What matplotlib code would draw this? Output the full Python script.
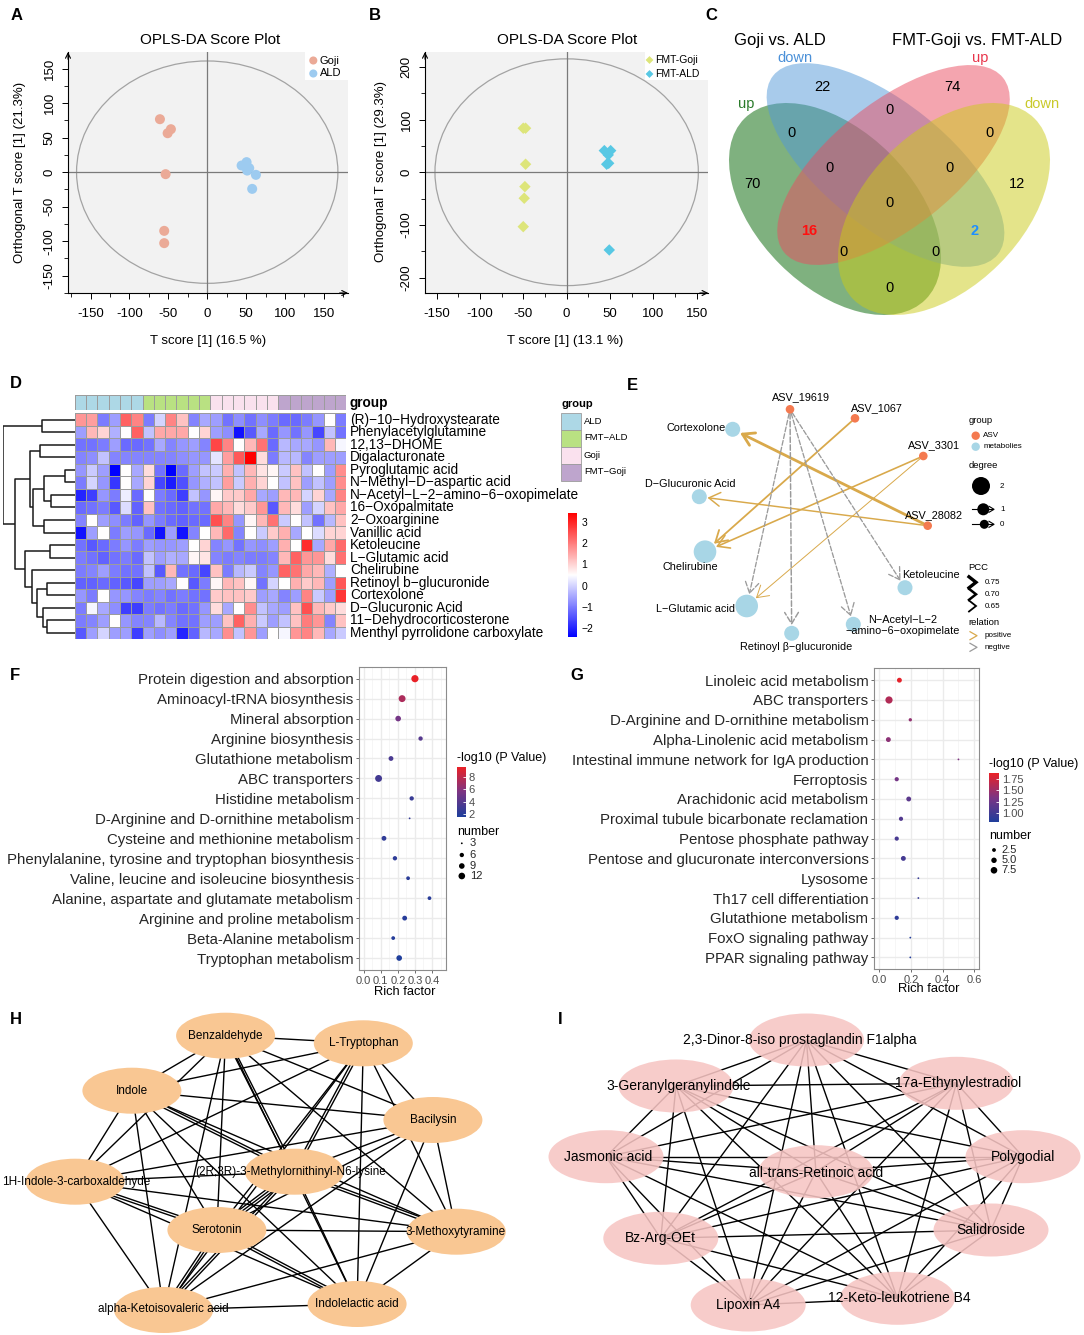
import numpy as np
import matplotlib
matplotlib.use("Agg")
import matplotlib.pyplot as plt
from matplotlib.patches import Ellipse, Rectangle, Circle
from matplotlib.colors import LinearSegmentedColormap, ListedColormap, Normalize
from matplotlib.cm import ScalarMappable
from collections import Counter

plt.rcParams["font.family"] = ["Liberation Sans", "DejaVu Sans"]
plt.rcParams["axes.unicode_minus"] = False

# ============================ DATA ============================
# --- A: OPLS-DA Goji vs ALD ---
a_goji_t = [-60.8, -46.7, -50.9, -53.5, -55.3, -55.3]
a_goji_o = [76.7, 62.2, 56.4, -2.9, -85.0, -102.8]
a_ald_t = [44.2, 50.6, 54.0, 51.4, 62.6, 57.8]
a_ald_o = [9.6, 14.5, 5.8, 2.3, -3.9, -24.2]
a_ticks = [-150, -100, -50, 0, 50, 100, 150]

# --- B: OPLS-DA FMT-Goji vs FMT-ALD ---
b_fgoji_t = [-50.1, -47.4, -47.4, -48.2, -49.0, -50.1]
b_fgoji_o = [83.5, 83.5, 15.2, -27.3, -49.3, -103.2]
b_fald_t = [43.5, 50.8, 48.0, 46.2, 48.5, 49.2]
b_fald_o = [41.0, 41.0, 32.8, 15.2, 17.0, -147.4]
b_xticks = [-150, -100, -50, 0, 50, 100, 150]
b_yticks = [-200, -100, 0, 100, 200]

# --- C: Venn ---
venn_titles = ["Goji vs. ALD", "FMT-Goji vs. FMT-ALD"]
venn_set_labels = ["up", "down", "up", "down"]
venn_regions = ["G", "B", "R", "Y", "GB", "BR", "RY", "GBR", "BRY", "GBRY", "GR", "BY", "GRY", "GBY", "GY"]
venn_counts = [70, 22, 74, 12, 0, 0, 0, 0, 0, 0, 16, 2, 0, 0, 0]

# --- D: heatmap ---
hm_metabolites = ["(R)−10−Hydroxystearate", "Phenylacetylglutamine", "12,13−DHOME", "Digalacturonate",
                  "Pyroglutamic acid", "N−Methyl−D−aspartic acid", "N−Acetyl−L−2−amino−6−oxopimelate",
                  "16−Oxopalmitate", "2−Oxoarginine", "Vanillic acid", "Ketoleucine", "L−Glutamic acid",
                  "Chelirubine", "Retinoyl b−glucuronide", "Cortexolone", "D−Glucuronic Acid",
                  "11−Dehydrocorticosterone", "Menthyl pyrrolidone carboxylate"]
hm_groups = ["ALD", "FMT−ALD", "Goji", "FMT−Goji"]
hm_sample_groups = (["ALD"] * 6 + ["FMT−ALD"] * 6 + ["Goji"] * 6 + ["FMT−Goji"] * 6)
hm_values = [
    [1.7, 1.6, -1.0, -0.6, 2.3, 1.9, -1.0, 0.0, 1.9, 1.2, -0.9, -0.5, -0.6, -1.1, -0.8, -1.1, -0.8, -1.0, -1.2, -1.2, -1.0, -0.7, 0.5, -1.0],
    [-0.6, 1.3, 1.0, -0.4, 0.5, 2.3, -0.2, 1.5, 1.5, 1.5, 0.5, 1.0, -0.6, -0.8, -2.2, -1.4, -0.5, -1.2, -0.7, -1.1, -0.7, -1.6, -0.2, -1.1],
    [-1.1, -1.1, -1.0, -0.6, -1.2, -1.2, -1.1, -0.5, -0.9, -0.7, -0.6, -0.9, 2.6, 1.9, 0.5, 1.3, 2.1, -1.2, -0.3, -0.5, -0.5, -0.7, 1.3, 0.4],
    [-0.9, -0.8, -0.2, -0.9, -0.9, -0.9, -0.9, -0.9, -0.9, -0.8, -0.7, -0.7, 0.2, 1.6, 2.4, 3.4, 0.9, -1.0, -0.3, -0.3, -0.9, -0.6, -0.6, -0.6],
    [-0.7, -0.1, -0.6, -2.4, 0.5, -0.5, 0.9, -1.1, -2.4, -1.2, -0.6, -0.2, -0.1, 1.4, -0.2, 1.3, 0.8, 0.6, -0.1, 1.2, -0.2, 0.5, -0.6, 1.8],
    [-1.0, 0.0, -0.7, -1.8, 0.5, -0.5, 1.0, -1.6, -2.1, -1.5, -0.7, -0.4, -0.2, 1.6, -0.1, 1.4, 1.0, 0.5, -0.2, 1.2, -0.6, -0.2, -0.6, 1.8],
    [-2.0, -1.7, -0.7, -1.0, 0.3, -1.2, 0.5, -1.0, -1.2, -1.7, -0.2, -0.7, 0.6, 1.1, 1.1, 1.5, -0.5, -0.6, 1.3, 1.3, 0.0, 1.0, -0.5, 1.9],
    [-1.2, -1.1, -1.0, -1.4, 0.1, -1.3, 1.2, -1.1, -1.2, -1.3, -1.1, -1.1, 1.5, 1.3, 0.9, 1.1, 1.7, -1.4, 1.3, 0.9, -0.6, 0.0, 1.2, 1.5],
    [-0.9, 0.5, -0.6, -0.8, -1.0, -1.3, -0.7, -1.0, -1.2, -1.3, -1.2, -1.2, 2.5, 1.9, -0.7, 0.6, 1.3, 2.1, -0.1, 0.5, -0.2, -1.1, -0.3, 1.2],
    [-2.2, -0.6, 0.5, -1.0, -0.6, -0.7, -1.2, -2.2, -0.6, -2.2, -0.9, 0.5, 1.3, 2.2, -0.9, 0.5, -0.1, 1.1, 1.4, -0.5, 0.5, 0.1, 1.0, 1.0],
    [-1.1, -1.4, -1.2, -1.0, -0.7, -1.0, -0.6, -0.7, -0.7, -0.6, 0.5, 1.0, -0.9, -0.7, -1.1, -0.7, -0.8, -0.6, 1.4, 0.5, 2.9, -0.5, 1.5, 2.2],
    [-1.0, -1.1, -1.3, -1.1, -1.0, -1.2, -0.2, -0.6, -0.4, -0.5, 0.6, 0.8, -0.9, -1.0, -0.9, -1.0, -1.0, -0.9, 1.3, 2.3, 1.7, 1.7, 0.9, 2.1],
    [-1.0, -0.9, -0.6, -1.0, -1.1, -1.1, -0.2, -1.4, 1.3, -1.1, -1.2, -1.6, 1.2, -1.0, -0.3, -0.1, -0.9, -0.7, 2.3, 2.1, 1.5, 1.3, -0.4, 0.5],
    [-1.3, -1.3, -1.2, -1.3, -1.4, -1.6, -0.6, -0.6, -0.5, 0.5, -1.4, -1.0, 0.6, 1.3, 1.2, 0.6, -1.1, 0.0, 0.5, 1.4, 1.1, 1.3, -0.6, 2.4],
    [-0.7, -1.0, 0.5, -0.7, -0.7, -0.9, -1.0, -0.9, -1.1, -1.0, -1.1, -1.1, 1.1, 1.2, 1.2, 1.1, -0.6, -0.5, -0.9, -0.6, 1.9, -0.1, -0.6, 2.8],
    [-1.0, 0.4, -0.5, -0.8, -1.7, -1.7, -1.0, -1.1, -1.0, -1.2, -1.1, -0.7, 0.9, -0.5, 0.5, 1.8, -0.2, -0.5, -0.6, 1.2, 2.5, 1.3, 1.1, 0.9],
    [-1.0, -0.9, -0.6, 0.5, -0.7, -0.9, -0.9, -0.3, -0.9, -1.1, -1.1, -0.6, -0.6, 1.2, 2.3, 1.4, -0.1, -0.6, -0.2, 1.2, 2.0, 1.7, -0.9, 1.2],
    [-1.4, -0.6, 0.0, -0.6, -0.6, -1.7, -0.6, -0.8, -0.6, -2.0, -1.3, -0.3, -0.5, 1.8, -0.2, 1.7, -0.6, 0.5, 0.4, 1.7, 1.9, 1.3, -0.5, -0.1],
]
# row dendrogram: (child_a, child_b, height); leaves 0..17, merged nodes numbered from 18
hm_merges = [(0, 1, 97), (2, 3, 105), (4, 5, 30), (6, 7, 70), (20, 21, 92), (8, 9, 92),
             (22, 23, 125), (19, 24, 133), (10, 11, 75), (13, 14, 82), (16, 17, 82),
             (15, 28, 95), (27, 29, 113), (12, 30, 128), (26, 31, 148), (25, 32, 180), (18, 33, 215)]
hm_vmin, hm_vmax = -2.42, 3.42
hm_legend_ticks = [3, 2, 1, 0, -1, -2]

# --- E: correlation network ---
e_nodes = ["ASV_19619", "ASV_1067", "ASV_3301", "ASV_28082", "Cortexolone", "D−Glucuronic Acid",
           "Chelirubine", "L−Glutamic acid", "Retinoyl β−glucuronide",
           "N−Acetyl−L−2\n−amino−6−oxopimelate", "Ketoleucine"]
e_node_group = ["ASV", "ASV", "ASV", "ASV", "metabolies", "metabolies", "metabolies", "metabolies",
                "metabolies", "metabolies", "metabolies"]
e_src = ["ASV_28082", "ASV_28082", "ASV_1067", "ASV_3301", "ASV_3301",
         "ASV_19619", "ASV_19619", "ASV_19619", "ASV_19619"]
e_tgt = ["Cortexolone", "D−Glucuronic Acid", "Chelirubine", "Chelirubine", "L−Glutamic acid",
         "L−Glutamic acid", "Retinoyl β−glucuronide", "N−Acetyl−L−2\n−amino−6−oxopimelate", "Ketoleucine"]
e_pcc = [0.76, 0.68, 0.70, 0.69, 0.65, -0.67, -0.68, -0.67, -0.67]

# --- F: KEGG enrichment (Goji vs ALD) ---
f_terms = ["Protein digestion and absorption", "Aminoacyl-tRNA biosynthesis", "Mineral absorption",
           "Arginine biosynthesis", "Glutathione metabolism", "ABC transporters", "Histidine metabolism",
           "D-Arginine and D-ornithine metabolism", "Cysteine and methionine metabolism",
           "Phenylalanine, tyrosine and tryptophan biosynthesis", "Valine, leucine and isoleucine biosynthesis",
           "Alanine, aspartate and glutamate metabolism", "Arginine and proline metabolism",
           "Beta-Alanine metabolism", "Tryptophan metabolism"]
f_rich = [0.300, 0.225, 0.202, 0.333, 0.160, 0.0875, 0.281, 0.269, 0.119, 0.183, 0.260, 0.385, 0.240, 0.173, 0.208]
f_logp = [9.5, 7.3, 5.3, 4.0, 3.5, 3.2, 2.7, 2.6, 2.4, 2.3, 2.2, 2.1, 2.0, 1.9, 1.7]
f_num = [14, 13, 9, 6, 7, 13, 6, 3, 7, 6, 5, 5, 7, 5, 9]
f_xticks = [0.0, 0.1, 0.2, 0.3, 0.4]
f_cticks = [8, 6, 4, 2]
f_nticks = [3, 6, 9, 12]

# --- G: KEGG enrichment (FMT-Goji vs FMT-ALD) ---
g_terms = ["Linoleic acid metabolism", "ABC transporters", "D-Arginine and D-ornithine metabolism",
           "Alpha-Linolenic acid metabolism", "Intestinal immune network for IgA production", "Ferroptosis",
           "Arachidonic acid metabolism", "Proximal tubule bicarbonate reclamation", "Pentose phosphate pathway",
           "Pentose and glucuronate interconversions", "Lysosome", "Th17 cell differentiation",
           "Glutathione metabolism", "FoxO signaling pathway", "PPAR signaling pathway"]
g_rich = [0.127, 0.061, 0.196, 0.057, 0.501, 0.110, 0.186, 0.137, 0.110, 0.152, 0.247, 0.247, 0.110, 0.196, 0.196]
g_logp = [1.85, 1.60, 1.45, 1.42, 1.35, 1.30, 1.15, 1.10, 1.05, 1.03, 0.95, 0.95, 0.90, 0.83, 0.83]
g_num = [4, 9, 2, 4, 1, 3, 4, 3, 3, 4, 1, 1, 3, 1, 1]
g_xticks = [0.0, 0.2, 0.4, 0.6]
g_cticks = [1.75, 1.50, 1.25, 1.00]
g_nticks = [2.5, 5.0, 7.5]

# --- H: metabolite network 1 ---
h_nodes = ["Benzaldehyde", "L-Tryptophan", "Indole", "Bacilysin", "1H-Indole-3-carboxaldehyde",
           "(2R,3R)-3-Methylornithinyl-N6-lysine", "Serotonin", "3-Methoxytyramine",
           "alpha-Ketoisovaleric acid", "Indolelactic acid"]
h_edges = [(0, 1), (0, 2), (0, 3), (0, 4), (0, 5), (0, 6), (0, 7), (0, 8), (0, 9),
           (1, 2), (1, 3), (1, 4), (1, 5), (1, 6), (1, 7), (1, 8), (1, 9),
           (2, 3), (2, 4), (2, 5), (2, 6), (2, 7), (2, 8), (2, 9),
           (3, 4), (3, 5), (3, 6), (3, 7), (3, 8), (3, 9),
           (4, 5), (4, 6), (4, 7), (4, 8), (4, 9),
           (5, 6), (5, 7), (5, 8), (5, 9),
           (6, 7), (6, 8), (6, 9), (7, 8), (7, 9), (8, 9),
           (2, 5), (1, 5), (0, 5), (4, 6), (5, 6), (5, 6), (6, 8), (5, 7), (6, 9), (5, 8)]

# --- I: metabolite network 2 ---
i_nodes = ["2,3-Dinor-8-iso prostaglandin F1alpha", "3-Geranylgeranylindole", "17a-Ethynylestradiol",
           "Jasmonic acid", "Polygodial", "all-trans-Retinoic acid", "Bz-Arg-OEt", "Salidroside",
           "Lipoxin A4", "12-Keto-leukotriene B4"]
i_edges = [(0, 1), (0, 2), (0, 3), (0, 4), (0, 5), (0, 6), (0, 7), (0, 8), (0, 9),
           (1, 2), (1, 3), (1, 4), (1, 5), (1, 6), (1, 7), (1, 8), (1, 9),
           (2, 3), (2, 4), (2, 5), (2, 6), (2, 7), (2, 8), (2, 9),
           (3, 4), (3, 5), (3, 6), (3, 7), (3, 8), (3, 9),
           (4, 5), (4, 6), (4, 7), (4, 8), (4, 9),
           (5, 6), (5, 7), (5, 8), (5, 9),
           (6, 7), (6, 8), (6, 9), (7, 8), (7, 9), (8, 9)]

# ============================ LAYOUT ============================
W, H = 1084, 1335
fig = plt.figure(figsize=(W / 100, H / 100), dpi=100)
fig.patch.set_facecolor("white")


def px_axes(x0, y0, x1, y1, **kw):
    return fig.add_axes([x0 / W, 1 - y1 / H, (x1 - x0) / W, (y1 - y0) / H], **kw)


ov = fig.add_axes([0, 0, 1, 1], zorder=20)
ov.set_xlim(0, W)
ov.set_ylim(H, 0)
ov.axis("off")
ov.patch.set_visible(False)

# panel letters
for lbl, x, y in [("A", 17, 15), ("B", 375, 15), ("C", 711, 15), ("D", 16, 383), ("E", 632, 385),
                  ("F", 15, 676), ("G", 577, 676), ("H", 16, 1019), ("I", 560, 1019)]:
    ov.text(x, y, lbl, fontsize=12, fontweight="bold", ha="center", va="center")


# ---------------- A & B ----------------
def score_plot(box, g1, g2, c1, c2, mk, ms, xlim, ylim, ell, xt, xminor, yt, yminor):
    ax = px_axes(*box)
    ax.set_facecolor("#F2F2F2")
    ax.add_patch(Ellipse((0, 0), 2 * ell[0], 2 * ell[1], fill=False, ec="#A3A3A3", lw=0.9, zorder=1))
    ax.axhline(0, color="#7A7A7A", lw=0.9, zorder=1)
    ax.axvline(0, color="#7A7A7A", lw=0.9, zorder=1)
    ax.scatter(g1[0], g1[1], s=ms, c=c1, marker=mk, edgecolors="none", zorder=3)
    ax.scatter(g2[0], g2[1], s=ms, c=c2, marker=mk, edgecolors="none", zorder=3)
    ax.set_xlim(*xlim)
    ax.set_ylim(*ylim)
    for s in ["top", "right"]:
        ax.spines[s].set_visible(False)
    for s in ["left", "bottom"]:
        ax.spines[s].set_linewidth(0.8)
    ax.set_xticks(xt)
    ax.set_xticklabels([str(v) for v in xt], fontsize=9.5)
    ax.set_xticks(xminor, minor=True)
    ax.set_yticks(yt)
    ax.set_yticklabels([str(v) for v in yt], fontsize=9.5, rotation=90, va="center")
    ax.set_yticks(yminor, minor=True)
    ax.tick_params(axis="x", which="major", length=4, width=0.7, pad=7)
    ax.tick_params(axis="y", which="major", length=4, width=0.7, pad=5)
    ax.tick_params(which="minor", length=3, width=0.6)
    ax.annotate("", xy=(1.0, 0), xytext=(0.97, 0), xycoords="axes fraction",
                arrowprops=dict(arrowstyle="->", lw=0.8, color="k", shrinkA=0, shrinkB=0, mutation_scale=9),
                annotation_clip=False)
    ax.annotate("", xy=(0, 1.0), xytext=(0, 0.97), xycoords="axes fraction",
                arrowprops=dict(arrowstyle="->", lw=0.8, color="k", shrinkA=0, shrinkB=0, mutation_scale=9),
                annotation_clip=False)
    return ax


score_plot((68, 52, 348, 293), (a_goji_t, a_goji_o), (a_ald_t, a_ald_o), "#EBAA97", "#9DCBF0", "o", 52,
           (-179, 181), (-175, 174), (168, 161), a_ticks, list(range(-175, 180, 25)),
           a_ticks, list(range(-175, 175, 25)))
score_plot((425, 52, 708.3, 293), (b_fgoji_t, b_fgoji_o), (b_fald_t, b_fald_o), "#DDE57A", "#58C8E4", "D", 34,
           (-163.5, 163.5), (-229, 228), (152, 215), b_xticks, list(range(-150, 160, 25)),
           b_yticks, list(range(-200, 210, 50)))
for cx, title, xl, ylx, yl in [(210, "OPLS-DA Score Plot", "T score [1] (16.5 %)", 20, "Orthogonal T score [1] (21.3%)"),
                               (567, "OPLS-DA Score Plot", "T score [1] (13.1 %)", 381, "Orthogonal T score [1] (29.3%)")]:
    ov.text(cx, 40, title, fontsize=11, ha="center", va="center")
    ov.text(cx - 2, 341, xl, fontsize=9.5, ha="center", va="center")
    ov.text(ylx, 172, yl, fontsize=9.5, ha="center", va="center", rotation=90)
# legends A / B
ov.add_patch(Rectangle((305, 52), 43, 28, fc="white", ec="none"))
for y, c, t in [(60.5, "#EBAA97", "Goji"), (73.5, "#9DCBF0", "ALD")]:
    ov.scatter([313.3], [y], s=34, c=c, marker="o", edgecolors="none")
    ov.text(319.5, y, t, fontsize=8, va="center")
ov.add_patch(Rectangle((645, 52), 63.3, 28, fc="white", ec="none"))
for y, c, t in [(60, "#DDE57A", "FMT-Goji"), (74, "#58C8E4", "FMT-ALD")]:
    ov.scatter([649.5], [y], s=16, c=c, marker="D", edgecolors="none")
    ov.text(655, y, t, fontsize=7.5, va="center")

# ---------------- C: Venn (drawn in pixel space, y downwards) ----------------
venn_centers = [(835, 209), (885.5, 165), (893.5, 165), (944, 209)]
venn_w = [256, 287, 280, 256]
venn_h = [156, 125, 125, 156]
venn_ang = [45, 38.5, -38.5, -45]
venn_fill = ["#006400", "#5299D9", "#EA4D60", "#CBCB17"]
for (cx, cy), w, h, ang, col in zip(venn_centers, venn_w, venn_h, venn_ang, venn_fill):
    ov.add_patch(Ellipse((cx, cy), w, h, angle=ang, fc=col, ec="none", alpha=0.5, zorder=1))
venn_label_pos = {"G": (752, 184), "B": (822, 87), "R": (952, 87), "Y": (1017, 184),
                  "GB": (791, 133), "BR": (890, 110), "RY": (990, 133), "GBR": (830, 168),
                  "BRY": (950, 168), "GBRY": (890, 203), "GR": (809, 231), "BY": (975, 231),
                  "GRY": (844, 252), "GBY": (936, 252), "GY": (890, 288)}
venn_label_style = {"GR": ("#FF1010", "bold"), "BY": ("#1E8FFF", "bold")}
for reg, cnt in zip(venn_regions, venn_counts):
    col, fw = venn_label_style.get(reg, ("black", "normal"))
    x, y = venn_label_pos[reg]
    ov.text(x, y, str(cnt), fontsize=10.5, color=col, fontweight=fw, ha="center", va="center", zorder=2)
ov.text(780, 40, venn_titles[0], fontsize=12, ha="center", va="center")
ov.text(977, 40, venn_titles[1], fontsize=12, ha="center", va="center")
for (x, y), lab, col in zip([(746, 104), (795, 58), (980, 58), (1042, 104)], venn_set_labels,
                            ["#2A7A2A", "#4A90D8", "#E8344A", "#C9C92A"]):
    ov.text(x, y, lab, fontsize=10.5, color=col, ha="center", va="center")

# ---------------- D: heatmap ----------------
hm_left, hm_right, hm_top, hm_bot = 74.6, 346.3, 413.3, 639.3
heat_cmap = LinearSegmentedColormap.from_list("bwr_ph", ["#0000FF", "#FFFFFF", "#FF0000"])
Z = np.array(hm_values)
nr, nc = Z.shape
axh = px_axes(hm_left, hm_top, hm_right, hm_bot)
axh.pcolormesh(Z, cmap=heat_cmap, vmin=hm_vmin, vmax=hm_vmax, edgecolors="#9C9C9C", linewidth=0.7)
axh.set_xlim(0, nc)
axh.set_ylim(nr, 0)
axh.axis("off")
group_colors = ["#ADD8E6", "#B9E182", "#FAE1EE", "#BEA5CD"]
axg = px_axes(hm_left, 395, hm_right, 410)
axg.pcolormesh(np.array([[hm_groups.index(g) for g in hm_sample_groups]]),
               cmap=ListedColormap(group_colors), vmin=-0.5, vmax=3.5, edgecolors="#9C9C9C", linewidth=0.7)
axg.set_xlim(0, nc)
axg.set_ylim(1, 0)
axg.axis("off")
row_h = (hm_bot - hm_top) / nr
for i, name in enumerate(hm_metabolites):
    ov.text(350, hm_top + (i + 0.5) * row_h, name, fontsize=9.8, va="center", ha="left")
ov.text(350, 403, "group", fontsize=9.8, fontweight="bold", va="center", ha="left")
# dendrogram
axd = px_axes(3, hm_top, hm_left, hm_bot)
pos = {i: i + 0.5 for i in range(nr)}
hgt = {i: 0.0 for i in range(nr)}
for k, (a, b, h) in enumerate(hm_merges):
    axd.plot([hgt[a], h, h, hgt[b]], [pos[a], pos[a], pos[b], pos[b]], color="#1A1A1A", lw=1.1,
             solid_capstyle="butt")
    pos[nr + k] = (pos[a] + pos[b]) / 2
    hgt[nr + k] = h
axd.set_xlim(max(m[2] for m in hm_merges), 0)
axd.set_ylim(nr, 0)
axd.axis("off")
# group legend
ov.text(561, 404, "group", fontsize=8, fontweight="bold", va="center", ha="left")
for i, (g, c) in enumerate(zip(hm_groups, group_colors)):
    y0 = 412.5 + i * 17
    ov.add_patch(Rectangle((561, y0), 20, 17, fc=c, ec="#9C9C9C", lw=0.6))
    ov.text(584, y0 + 8.5, g, fontsize=6.8, va="center", ha="left")
# colour key
cax = px_axes(568, 513, 577, 637)
cb = fig.colorbar(ScalarMappable(Normalize(hm_vmin, hm_vmax), heat_cmap), cax=cax)
cb.outline.set_visible(False)
cb.set_ticks(hm_legend_ticks)
cb.set_ticklabels([str(t).replace("-", "−") for t in hm_legend_ticks])
cax.tick_params(length=0, pad=3, labelsize=7.5)

# ---------------- E: network ----------------
e_pos = {"ASV_19619": (790, 409.3), "ASV_1067": (855, 418.3), "ASV_3301": (923.3, 456),
         "ASV_28082": (927.7, 525.7), "Cortexolone": (732.7, 429.3), "D−Glucuronic Acid": (699.3, 496.7),
         "Chelirubine": (705, 551.7), "L−Glutamic acid": (746.7, 606), "Retinoyl β−glucuronide": (791.7, 633.3),
         "N−Acetyl−L−2\n−amino−6−oxopimelate": (853.3, 624.3), "Ketoleucine": (905, 587.7)}
e_label_pos = {"ASV_19619": (800.5, 397.3), "ASV_1067": (877, 408.3), "ASV_3301": (933.7, 445),
               "ASV_28082": (934, 515), "Cortexolone": (696.3, 428.3), "D−Glucuronic Acid": (690, 484),
               "Chelirubine": (690, 567.3), "L−Glutamic acid": (695.8, 609.3),
               "Retinoyl β−glucuronide": (795.8, 646.7), "N−Acetyl−L−2\n−amino−6−oxopimelate": (903, 625.3),
               "Ketoleucine": (930.5, 575)}
deg_radius = {0: 4.3, 1: 7.5, 2: 11.3}
grp_color = {"ASV": "#F47A50", "metabolies": "#A8D6E6"}
gold, grey = "#D9A94B", "#9A9A9A"
e_rad = {n: deg_radius[e_tgt.count(n)] for n in e_nodes}
for s, t, p in zip(e_src, e_tgt, e_pcc):
    lw = 0.7 + (abs(p) - 0.65) * 12
    ov.annotate("", xy=e_pos[t], xytext=e_pos[s], xycoords="data", textcoords="data",
                arrowprops=dict(arrowstyle="->,head_length=0.9,head_width=0.55",
                                color=gold if p > 0 else grey, lw=lw,
                                linestyle="-" if p > 0 else "--",
                                shrinkA=e_rad[s] * 0.72, shrinkB=e_rad[t] * 0.72 + 0.5,
                                mutation_scale=9), zorder=4)
for n, g in zip(e_nodes, e_node_group):
    ov.add_patch(Circle(e_pos[n], e_rad[n], fc=grp_color[g], ec="none", zorder=5))
    x, y = e_label_pos[n]
    ov.text(x, y, n, fontsize=7.8, ha="center", va="center", zorder=6, linespacing=1.1)
# E legend
for t, y in [("group", 420.7), ("degree", 466), ("PCC", 567.3), ("relation", 622.3)]:
    ov.text(968.7, y, t, fontsize=6.8, va="center", ha="left")
for y, g, t in [(435.7, "ASV", "ASV"), (446.7, "metabolies", "metabolies")]:
    ov.add_patch(Circle((975.7, y), 4.2, fc=grp_color[g], ec="none"))
    ov.text(983.3, y, t, fontsize=5.8, va="center")
for (cx, cy), r, t in [((981, 486), 9, "2"), ((983.3, 509.3), 6, "1"), ((984.3, 524.3), 4.5, "0")]:
    ov.add_patch(Circle((cx, cy), r, fc="black", ec="none"))
    ov.text(1000, cy, t, fontsize=5.8, va="center")
    if t != "2":
        ov.plot([972, 993], [cy, cy], color="black", lw=0.8)
        ov.plot([989, 994, 989], [cy - 3, cy, cy + 3], color="black", lw=0.8)
for y, lw, t in [(582.3, 2.4, "0.75"), (594.3, 1.8, "0.70"), (606, 1.3, "0.65")]:
    ov.plot([969, 976, 969], [y - 5.5, y, y + 5.5], color="black", lw=lw, solid_joinstyle="miter")
    ov.text(985, y, t, fontsize=5.8, va="center")
for y, c, t in [(635.7, gold, "positive"), (647.3, grey, "negtive")]:
    ov.plot([970, 977, 970], [y - 4, y, y + 4], color=c, lw=0.9)
    ov.text(984.3, y, t, fontsize=5.8, va="center")

# ---------------- F & G: enrichment bubble plots ----------------
dot_cmap = LinearSegmentedColormap.from_list("enr", ["#1E3E9C", "#7B3584", "#E92127"])


def dot_diam(n, nmin, nmax):
    frac = np.clip((np.asarray(n, float) - nmin) / (nmax - nmin), 0, 1)
    return np.maximum(1.2 * (1 + 5 * np.sqrt(frac)), 1.8)


def enrich(box, terms, rich, logp, num, xlim, xticks, vmin, vmax, nmin, nmax):
    ax = px_axes(*box)
    n = len(terms)
    yy = np.arange(n)
    ax.set_xlim(*xlim)
    ax.set_ylim(n - 1 + 0.6, -0.6)
    step = xticks[1] - xticks[0]
    minor = np.arange(xticks[0] - step / 2, xlim[1], step)
    for x in minor:
        ax.axvline(x, color="#F3F3F3", lw=0.5, zorder=0)
    for x in xticks:
        ax.axvline(x, color="#EBEBEB", lw=1.0, zorder=0)
    for y in yy:
        ax.axhline(y, color="#EBEBEB", lw=1.0, zorder=0)
    d = dot_diam(num, nmin, nmax)
    ax.scatter(rich, yy, s=(d * 0.72) ** 2, c=logp, cmap=dot_cmap, vmin=vmin, vmax=vmax,
               edgecolors="none", zorder=3)
    ax.set_yticks(yy)
    ax.set_yticklabels(terms, fontsize=10.8, color="#262626")
    ax.set_xticks(xticks)
    ax.set_xticklabels(["%.1f" % v for v in xticks], fontsize=8, color="#4D4D4D")
    ax.tick_params(axis="both", length=2.5, width=0.6, color="#555555", pad=1.5)
    for s in ax.spines.values():
        s.set_color("#8C8C8C")
        s.set_linewidth(0.8)
    return ax


def grad_legend(box, cmap, vmin, vmax, ticks, labels, fs):
    cx = px_axes(*box)
    c = fig.colorbar(ScalarMappable(Normalize(vmin, vmax), cmap), cax=cx)
    c.outline.set_visible(False)
    c.set_ticks(ticks)
    c.set_ticklabels(labels)
    cx.tick_params(length=2.5, width=0.6, color="white", direction="in", labelsize=fs,
                   labelcolor="#4D4D4D", pad=2)


enrich((359, 666.7, 446.4, 970), f_terms, f_rich, f_logp, f_num, (-0.027, 0.484), f_xticks,
       1.62, 9.5, 3, 14)
grad_legend((457, 767.3, 466, 816.7), dot_cmap, 1.62, 9.5, f_cticks, [str(t) for t in f_cticks], 8)
ov.text(457, 758.3, "-log10 (P Value)", fontsize=9, va="center")
ov.text(457, 831.7, "number", fontsize=9, va="center")
for y, n in zip([843.3, 855, 866, 876], f_nticks):
    ov.scatter([461.8], [y], s=(dot_diam([n], 3, 14)[0] * 0.72) ** 2, c="black", edgecolors="none")
    ov.text(469.6, y, str(n), fontsize=8, va="center", color="#262626")
ov.text(404.6, 991.7, "Rich factor", fontsize=9.3, ha="center", va="center")

enrich((874, 668.3, 979.3, 969.3), g_terms, g_rich, g_logp, g_num, (-0.034, 0.633), g_xticks,
       0.80, 1.874, 1, 9)
grad_legend((989.3, 773.3, 999.3, 822.3), dot_cmap, 0.80, 1.874, g_cticks, ["%.2f" % t for t in g_cticks], 8)
ov.text(989.3, 764, "-log10 (P Value)", fontsize=9, va="center")
ov.text(989.3, 836, "number", fontsize=9, va="center")
for y, n in zip([850, 860.3, 870.3], g_nticks):
    ov.scatter([994], [y], s=(dot_diam([n], 1, 9)[0] * 0.72) ** 2, c="black", edgecolors="none")
    ov.text(1001.7, y, "%.1f" % n, fontsize=8, va="center", color="#262626")
ov.text(928.3, 989.3, "Rich factor", fontsize=9.3, ha="center", va="center")


# ---------------- H & I: networks ----------------
def draw_net(nodes, pos, tpos, edges, w, h, fc, fs, alpha):
    cnt = Counter(tuple(sorted(e)) for e in edges)
    for (i, j), k in cnt.items():
        (x0, y0), (x1, y1) = pos[i], pos[j]
        L = np.hypot(x1 - x0, y1 - y0)
        nx, ny = -(y1 - y0) / L, (x1 - x0) / L
        for off in (np.arange(k) - (k - 1) / 2) * 2.6:
            ov.plot([x0 + nx * off, x1 + nx * off], [y0 + ny * off, y1 + ny * off],
                    color="black", lw=1.0, zorder=2, solid_capstyle="butt")
    for i, name in enumerate(nodes):
        ov.add_patch(Ellipse(pos[i], w, h, fc=fc, ec="none", alpha=alpha, zorder=3))
        ov.text(tpos[i][0], tpos[i][1], name, fontsize=fs, ha="center", va="center", zorder=4)


h_pos = [(225.6, 1035.7), (363.3, 1043.3), (131.9, 1090.7), (432.9, 1120), (75.1, 1181.7),
         (294.4, 1171.7), (216.9, 1230), (456.3, 1231.7), (163.6, 1310), (357.1, 1304)]
h_tpos = [(225.6, 1035.7), (363.3, 1043.3), (131.9, 1090.7), (432.9, 1120), (76.6, 1181.7),
          (291, 1171.7), (216.9, 1230), (455.9, 1231.7), (163.3, 1309), (357.1, 1304)]
draw_net(h_nodes, h_pos, h_tpos, h_edges, 99, 46, "#F9C793", 8.5, 1.0)

i_pos = [(806.5, 1040), (676, 1086), (956.4, 1083.3), (606, 1156.7), (1023, 1156.7), (815.9, 1171.7),
         (660.8, 1238.3), (991, 1230), (748.2, 1305), (897.4, 1298.3)]
i_tpos = [(800.2, 1040), (678.8, 1086), (958, 1083), (607.7, 1156.7), (1023, 1156.7), (815.9, 1173),
          (660.8, 1238.3), (991, 1230), (748.2, 1305), (899, 1298)]
draw_net(i_nodes, i_pos, i_tpos, i_edges, 115, 53, "#F7C5C3", 10, 0.88)

fig.savefig("out.png", dpi=100)
